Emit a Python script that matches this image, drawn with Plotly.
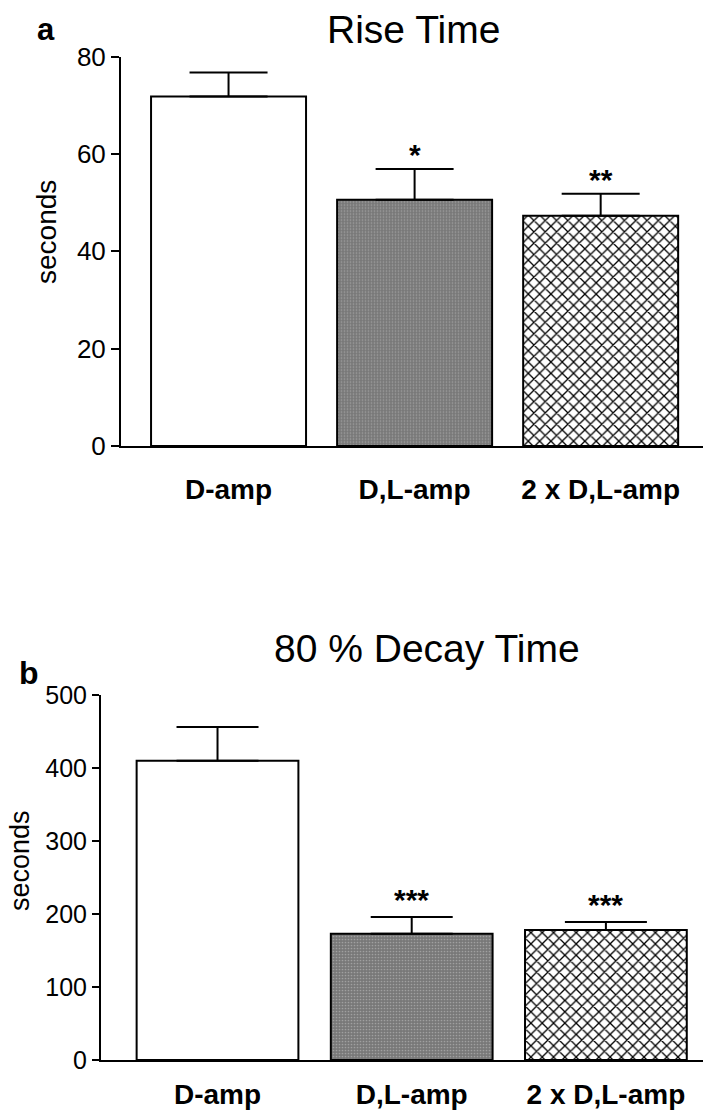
import plotly.graph_objects as go

categories = ["D-amp", "D,L-amp", "2 x D,L-amp"]
rise_mean = [71.8, 50.6, 47.3]
rise_sem = [4.9, 6.3, 4.5]
decay_mean = [410, 173, 178]
decay_sem = [46, 23, 11]
rise_stars = ["", "*", "**"]
decay_stars = ["", "***", "***"]
rise_ticks = [0, 20, 40, 60, 80]
decay_ticks = [0, 100, 200, 300, 400, 500]

W, H = 707, 1114
FONT = "Liberation Sans, Arial, sans-serif"

fill_colors = ["white", "#7c7c7c", "white"]
patterns = [
    dict(shape=""),
    dict(shape=".", fgcolor="#a0a0a0", bgcolor="#787878", size=3, solidity=0.25, fillmode="replace"),
    dict(shape="x", fgcolor="black", bgcolor="white", size=8, solidity=0.3, fillmode="replace"),
]

fig = go.Figure()

def add_panel(means, sems, xa, ya, capw):
    for i, c in enumerate(categories):
        fig.add_trace(go.Bar(
            x=[c], y=[means[i]], xaxis=xa, yaxis=ya,
            marker=dict(color=fill_colors[i], line=dict(color="black", width=2),
                        pattern=patterns[i]),
            error_y=dict(type="data", array=[sems[i]], arrayminus=[0], symmetric=False,
                         color="black", thickness=2, width=capw),
            showlegend=False, hoverinfo="skip",
        ))

add_panel(rise_mean, rise_sem, "x", "y", 39)
add_panel(decay_mean, decay_sem, "x2", "y2", 41)

def px_x(p):
    return p / W

def px_y(p):
    return 1 - p / H

axis_common = dict(showgrid=False, zeroline=False, showline=True, linecolor="black",
                   linewidth=2, mirror=False, automargin=False)

fig.update_layout(
    template="none",
    width=W, height=H, margin=dict(l=0, r=0, t=0, b=0, pad=0, autoexpand=False),
    paper_bgcolor="white", plot_bgcolor="white",
    barmode="overlay", bargap=0.167,
    font=dict(family=FONT, color="black"),
    xaxis=dict(domain=[px_x(121), px_x(703)], range=[-0.578, 2.55], anchor="y",
               ticks="", ticklabelstandoff=17, tickfont=dict(size=28, family=FONT, weight="bold"),
               categoryorder="array", categoryarray=categories, **axis_common),
    yaxis=dict(domain=[px_y(446), px_y(56.5)], range=[0, 80], anchor="x",
               tickvals=rise_ticks, ticks="outside", ticklen=8, tickwidth=2, tickcolor="black",
               tickfont=dict(size=26, family=FONT), **axis_common),
    xaxis2=dict(domain=[px_x(101), px_x(703)], range=[-0.6, 2.5], anchor="y2",
                ticks="", ticklabelstandoff=8, tickfont=dict(size=28, family=FONT, weight="bold"),
                categoryorder="array", categoryarray=categories, **axis_common),
    yaxis2=dict(domain=[px_y(1060), px_y(695)], range=[0, 500], anchor="x2",
                tickvals=decay_ticks, ticks="outside", ticklen=7, tickwidth=2, tickcolor="black",
                tickfont=dict(size=25, family=FONT), **axis_common),
)

ann = []
# titles
ann.append(dict(text="Rise Time", x=px_x(413), y=px_y(30), xref="paper", yref="paper",
                showarrow=False, font=dict(size=39, family=FONT), xanchor="center", yanchor="middle"))
ann.append(dict(text="80 % Decay Time", x=px_x(427), y=px_y(648), xref="paper", yref="paper",
                showarrow=False, font=dict(size=39, family=FONT), xanchor="center", yanchor="middle"))
# panel letters
ann.append(dict(text="<b>a</b>", x=px_x(46), y=px_y(30), xref="paper", yref="paper",
                showarrow=False, font=dict(size=31, family=FONT), xanchor="center", yanchor="middle"))
ann.append(dict(text="<b>b</b>", x=px_x(29), y=px_y(673), xref="paper", yref="paper",
                showarrow=False, font=dict(size=32, family=FONT), xanchor="center", yanchor="middle"))
# y titles
ann.append(dict(text="seconds", x=px_x(47), y=px_y(232), xref="paper", yref="paper",
                showarrow=False, textangle=-90, font=dict(size=28, family=FONT),
                xanchor="center", yanchor="middle"))
ann.append(dict(text="seconds", x=px_x(20), y=px_y(861), xref="paper", yref="paper",
                showarrow=False, textangle=-90, font=dict(size=27, family=FONT),
                xanchor="center", yanchor="middle"))
# stars
for i, c in enumerate(categories):
    if rise_stars[i]:
        ann.append(dict(text="<b>" + rise_stars[i] + "</b>", x=c, y=rise_mean[i] + rise_sem[i],
                        xref="x", yref="y", showarrow=False, font=dict(size=30, family=FONT),
                        xanchor="center", yanchor="bottom", yshift=-4))
    if decay_stars[i]:
        ann.append(dict(text="<b>" + decay_stars[i] + "</b>", x=c, y=decay_mean[i] + decay_sem[i],
                        xref="x2", yref="y2", showarrow=False, font=dict(size=30, family=FONT),
                        xanchor="center", yanchor="bottom", yshift=-1))
fig.update_layout(annotations=ann)

post = """
document.documentElement.style.margin='0';
document.body.style.margin='0';
document.body.style.padding='0';
"""

fig.write_html("out.html", config={"displayModeBar": False}, post_script=post)
